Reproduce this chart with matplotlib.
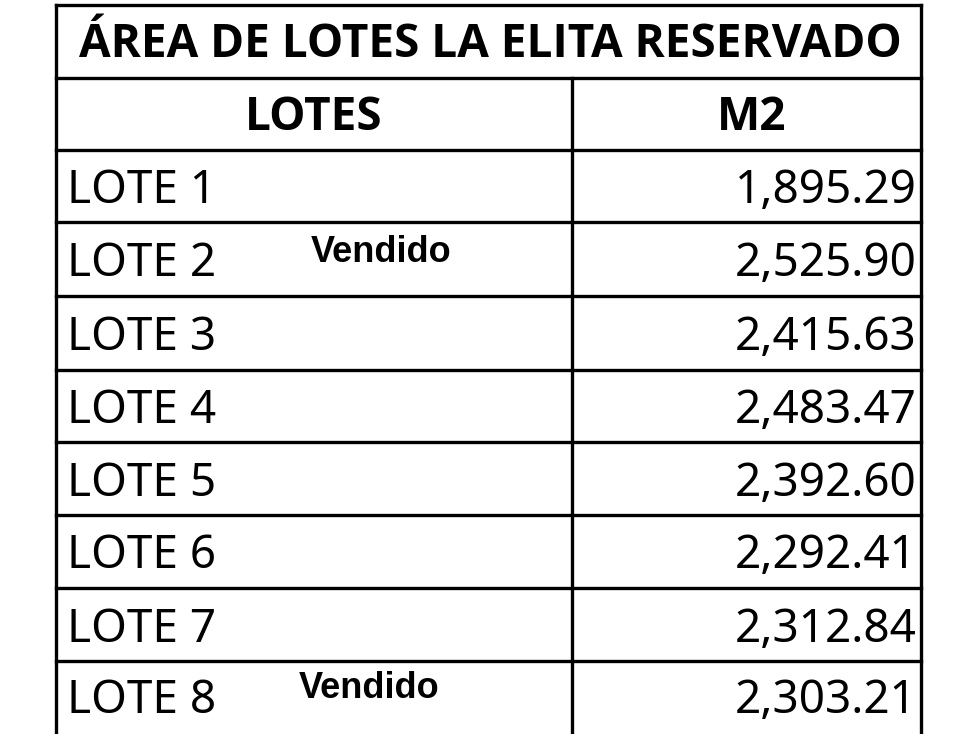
import matplotlib.pyplot as plt

title = "ÁREA DE LOTES LA ELITA RESERVADO"
headers = ["LOTES", "M2"]
lotes = ["LOTE 1", "LOTE 2", "LOTE 3", "LOTE 4", "LOTE 5", "LOTE 6", "LOTE 7", "LOTE 8"]
areas = ["1,895.29", "2,525.90", "2,415.63", "2,483.47", "2,392.60", "2,292.41", "2,312.84", "2,303.21"]
notes = ["", "Vendido", "", "", "", "", "", "Vendido"]
note_x = [0, 381, 0, 0, 0, 0, 0, 369]

fig = plt.figure(figsize=(9.79, 7.34), dpi=100)
ax = fig.add_axes([0, 0, 1, 1])
ax.set_xlim(0, 979)
ax.set_ylim(734, 0)
ax.axis("off")

left, mid, right = 56, 572, 921
row_edges = [5, 78, 150, 222, 296, 370, 442, 515, 588, 661, 740]
lw = 2.4

# grid lines
for y in row_edges[:-1]:
    ax.plot([left, right], [y, y], color="black", lw=lw)
ax.plot([left, left], [row_edges[0], 734], color="black", lw=lw)
ax.plot([right, right], [row_edges[0], 734], color="black", lw=lw)
ax.plot([mid, mid], [row_edges[1], 734], color="black", lw=lw)

ax.text((left + right) / 2 + 2, (row_edges[0] + row_edges[1]) / 2 + 3, title,
        ha="center", va="center", fontsize=33, fontweight="bold", family="Open Sans")
ax.text((left + mid) / 2, (row_edges[1] + row_edges[2]) / 2 + 3, headers[0],
        ha="center", va="center", fontsize=33, fontweight="bold", family="Open Sans")
ax.text((mid + right) / 2 + 5, (row_edges[1] + row_edges[2]) / 2 + 3, headers[1],
        ha="center", va="center", fontsize=33, fontweight="bold", family="Open Sans")

for i, (lote, area, note) in enumerate(zip(lotes, areas, notes)):
    yc = (row_edges[i + 2] + min(row_edges[i + 3], 734)) / 2 + 5
    if i == 7:
        yc = row_edges[i + 2] + 40
    ax.text(left + 11, yc, lote, ha="left", va="center", fontsize=33, family="Noto Sans")
    ax.text(right - 4, yc, area, ha="right", va="center", fontsize=33, family="Noto Sans")
    if note:
        ax.text(note_x[i], yc - 12, note, ha="center", va="center", fontsize=26,
                fontweight="bold", family="Liberation Sans")

fig.savefig("out.png", dpi=100)
